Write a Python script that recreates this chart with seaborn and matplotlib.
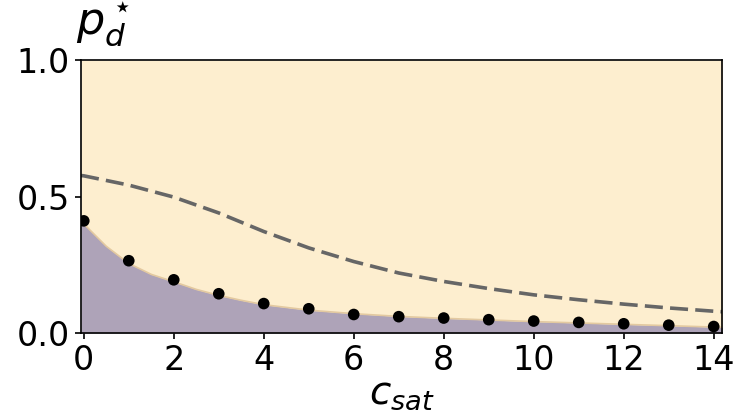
import numpy as np
import pandas as pd
import matplotlib
matplotlib.use("Agg")
import matplotlib.pyplot as plt
import seaborn as sns

# Dots (c_sat integer values)
dot_x = list(range(15))
dot_y = [0.411, 0.265, 0.195, 0.144, 0.108, 0.089, 0.068, 0.060, 0.055,
         0.049, 0.044, 0.039, 0.034, 0.029, 0.024]

# Boundary of shaded region
curve_x = [-0.06, 0, 0.5, 1, 1.5, 2, 2.5, 3, 3.5, 4, 5, 6, 7, 8, 9, 10, 11, 12, 13, 14, 14.2]
curve_y = [0.408, 0.400, 0.318, 0.255, 0.215, 0.188, 0.160, 0.138, 0.120, 0.104,
           0.084, 0.071, 0.061, 0.054, 0.048, 0.042, 0.037, 0.032, 0.027, 0.022, 0.021]

# Dashed curve
dash_x = [-0.06, 0, 1, 2, 3, 4, 5, 6, 7, 8, 9, 10, 11, 12, 13, 14, 14.2]
dash_y = [0.577, 0.576, 0.542, 0.498, 0.440, 0.372, 0.312, 0.262, 0.220, 0.189,
          0.163, 0.140, 0.122, 0.106, 0.092, 0.080, 0.078]

x_ticks = [0, 2, 4, 6, 8, 10, 12, 14]
y_ticks = [0.0, 0.5, 1.0]

sns.set_style("ticks")
plt.rcParams['font.family'] = ['DejaVu Sans']
plt.rcParams['text.color'] = 'black'
plt.rcParams['xtick.color'] = 'black'
plt.rcParams['ytick.color'] = 'black'
plt.rcParams['axes.labelcolor'] = 'black'

fig = plt.figure(figsize=(7.37, 4.20), dpi=100)
ax = fig.add_axes([0.110, 0.207, 0.870, 0.650])

yellow = "#FDEECF"
purple = "#AEA3B8"

ax.fill_between(curve_x, curve_y, 1.0, color=yellow, linewidth=0)
ax.fill_between(curve_x, 0, curve_y, color=purple, linewidth=0)
ax.plot(curve_x, curve_y, color="#E3C9A0", lw=1.2)

dash_df = pd.DataFrame({"x": dash_x, "y": dash_y})
sns.lineplot(data=dash_df, x="x", y="y", ax=ax, color="#666666", lw=2.6,
             sort=False, dashes=False)
ax.lines[-1].set_dashes((5, 2))

dot_df = pd.DataFrame({"x": dot_x, "y": dot_y})
sns.scatterplot(data=dot_df, x="x", y="y", ax=ax, color="black", s=70,
                edgecolor="none", zorder=5)

ax.set_xlim(-0.06, 14.19)
ax.set_ylim(0, 1.0)
ax.set_xticks(x_ticks)
ax.set_yticks(y_ticks)
ax.set_yticklabels([f"{v:.1f}" for v in y_ticks])
ax.tick_params(labelsize=24, length=4.5, width=1.2, color="black", labelcolor="black")
for s in ax.spines.values():
    s.set_color("black")
    s.set_linewidth(1.2)

ax.set_xlabel(r"$c_{sat}$", fontsize=28, labelpad=-2)
ax.set_ylabel(r"$p_d^\star$", fontsize=32, rotation=0, ha="left", va="bottom")
ax.yaxis.set_label_coords(-0.008, 1.045)

fig.savefig("out.png", dpi=100)
